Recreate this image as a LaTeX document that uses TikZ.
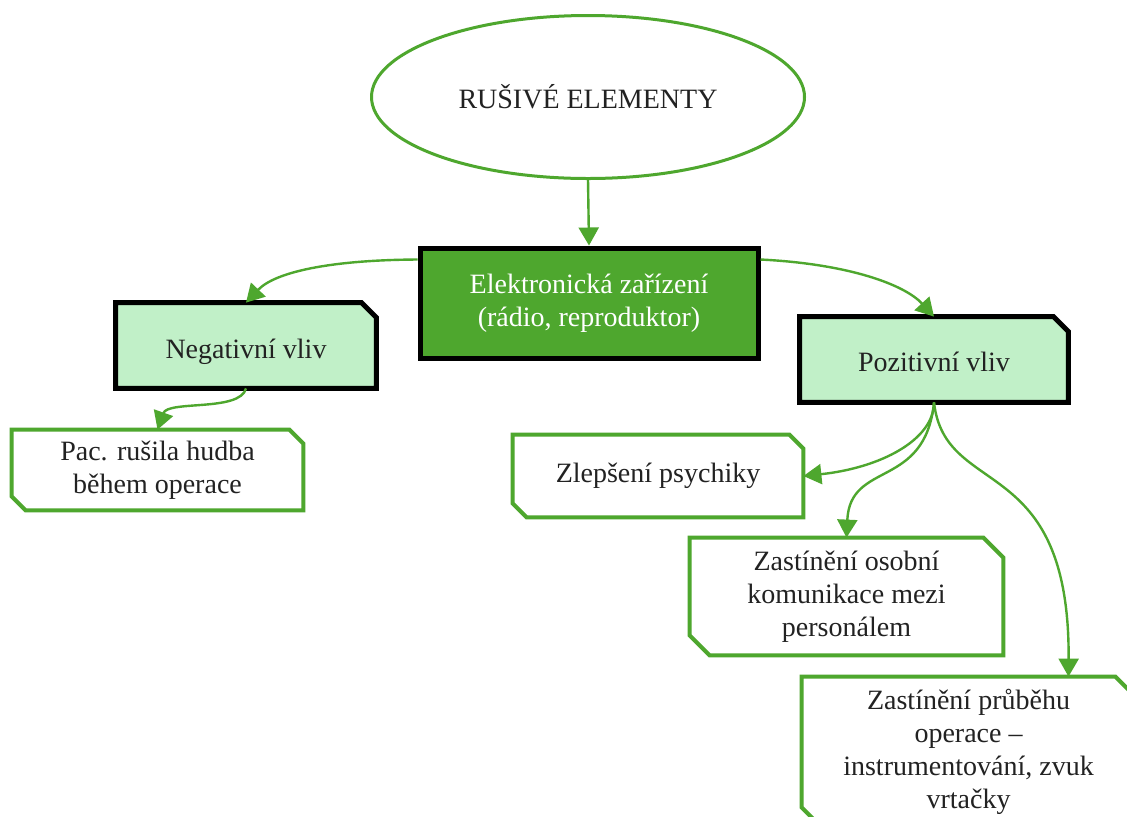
\documentclass[tikz,border=0pt]{standalone}
\usepackage{fontspec}
\setmainfont{Liberation Serif}
\usetikzlibrary{arrows.meta,calc,shapes.geometric}
\definecolor{leaf}{HTML}{4EA72E}
\definecolor{mint}{HTML}{C1F0C8}
\definecolor{ink}{HTML}{222222}

\begin{document}
\begin{tikzpicture}[x=0.5pt,y=-0.5pt,
  font=\fontsize{14}{16.5}\selectfont,
  boxtext/.style={draw=none, inner sep=0pt, align=center, text=ink},
  darkframe/.style={draw=black, line width=2.5pt, line join=miter},
  greenframe/.style={draw=leaf, line width=2pt, line join=miter},
  link/.style={draw=leaf, line width=1.2pt, -{Triangle[length=9pt,width=10pt]}}]

\clip (0,0) rectangle (1127,816);
\fill[white] (0,0) rectangle (1127,816);

% title ellipse
\node[ellipse, draw=leaf, line width=1.5pt, minimum width=216.5pt, minimum height=81.5pt,
      inner sep=0pt, text=ink] (top) at (588,97) {RUŠIVÉ ELEMENTY};

% central box
\node[rectangle, darkframe, fill=leaf, text=white, align=center,
      minimum width=169pt, minimum height=55pt, inner sep=0pt] (elek) at (589,303)
      {Elektronická zařízení\\(rádio, reproduktor)};

% frames of the snipped boxes (nodes only fix size and position)
\node[boxtext, minimum width=130pt, minimum height=42.5pt] (neg) at (246,345.5) {};
\node[boxtext, minimum width=134pt, minimum height=42.5pt] (poz) at (934,359.5) {};
\node[boxtext, minimum width=145.5pt, minimum height=40pt] (pac) at (157.5,470) {};
\node[boxtext, minimum width=145pt, minimum height=41pt] (zlep) at (658,476) {};
\node[boxtext, minimum width=156.5pt, minimum height=58.5pt] (osob) at (846.5,596.5) {};
\node[boxtext, minimum width=166.5pt, minimum height=75pt] (prub) at (968.5,752) {};

% one snipped corner (north east), filled
\path[fill=mint, darkframe] (neg.south west) -- (neg.north west) -- ([xshift=-7.5pt]neg.north east)
  -- ([yshift=-7.5pt]neg.north east) -- (neg.south east) -- cycle;
\path[fill=mint, darkframe] (poz.south west) -- (poz.north west) -- ([xshift=-7.5pt]poz.north east)
  -- ([yshift=-7.5pt]poz.north east) -- (poz.south east) -- cycle;

% two snipped corners (north east, south west)
\path[greenframe] (pac.north west) -- ([xshift=-7pt]pac.north east) -- ([yshift=-7pt]pac.north east)
  -- (pac.south east) -- ([xshift=7pt]pac.south west) -- ([yshift=7pt]pac.south west) -- cycle;
\path[greenframe] (zlep.north west) -- ([xshift=-7pt]zlep.north east) -- ([yshift=-7pt]zlep.north east)
  -- (zlep.south east) -- ([xshift=7pt]zlep.south west) -- ([yshift=7pt]zlep.south west) -- cycle;
\path[greenframe] (osob.north west) -- ([xshift=-10pt]osob.north east) -- ([yshift=-10pt]osob.north east)
  -- (osob.south east) -- ([xshift=10pt]osob.south west) -- ([yshift=10pt]osob.south west) -- cycle;
\path[greenframe] (prub.north west) -- ([xshift=-10pt]prub.north east) -- ([yshift=-10pt]prub.north east)
  -- (prub.south east) -- ([xshift=10pt]prub.south west) -- ([yshift=10pt]prub.south west) -- cycle;

% texts
\node[boxtext] (negT) at (246,352) {Negativní vliv};
\node[boxtext] (pozT) at (934,362) {Pozitivní vliv};
\node[boxtext] (pacT) at (pac) {Pac. rušila hudba\\během operace};
\node[boxtext] (zlepT) at (zlep) {Zlepšení psychiky};
\node[boxtext] (osobT) at (osob) {Zastínění osobní\\komunikace mezi\\personálem};
\node[boxtext] (prubT) at (prub) {Zastínění průběhu\\operace –\\instrumentování, zvuk\\vrtačky};

% connectors
\coordinate (elekL) at ([yshift=-7pt]elek.north west);
\coordinate (elekR) at ([yshift=-7pt]elek.north east);
\coordinate (prubIn) at ([xshift=50pt]prub.north);

\draw[link] (top.south) -- (elek.north);
\draw[link] (elekL) .. controls (330,260) and (275,272) .. (neg.north);
\draw[link] (elekR) .. controls (850,264) and (905,285) .. (poz.north);
\draw[link] (neg.south) .. controls (240,412) and (168,400) .. (pac.north);
\draw[link] (poz.south) .. controls (934,440) and (880,468) .. (zlep.east);
\draw[link] (poz.south) .. controls (925,490) and (850,460) .. (osob.north);
\draw[link] (poz.south) .. controls (945,500) and (1070,450) .. (prubIn);
\end{tikzpicture}
\end{document}
